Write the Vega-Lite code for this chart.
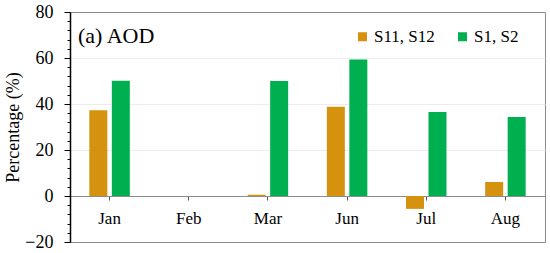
{
  "$schema": "https://vega.github.io/schema/vega-lite/v6.json",
  "width": 475,
  "height": 230,
  "autosize": {"type": "none"},
  "padding": {"left": 70, "top": 12, "right": 5, "bottom": 11},
  "background": "white",
  "config": {
    "font": "Liberation Serif, Times New Roman, serif",
    "view": {"stroke": "#8c8c8c", "strokeWidth": 1}
  },
  "title": {
    "text": "(a) AOD",
    "anchor": "start",
    "frame": "group",
    "orient": "top",
    "offset": -45,
    "dx": 8,
    "font": "Liberation Serif, Times New Roman, serif",
    "fontSize": 22,
    "fontWeight": "normal",
    "color": "black"
  },
  "data": {
    "values": [
      {"month": "Jan", "series": "S11, S12", "value": 37.3},
      {"month": "Jan", "series": "S1, S2", "value": 50.1},
      {"month": "Feb", "series": "S11, S12", "value": 0},
      {"month": "Feb", "series": "S1, S2", "value": 0},
      {"month": "Mar", "series": "S11, S12", "value": 0.5},
      {"month": "Mar", "series": "S1, S2", "value": 50.0},
      {"month": "Jun", "series": "S11, S12", "value": 38.8},
      {"month": "Jun", "series": "S1, S2", "value": 59.4},
      {"month": "Jul", "series": "S11, S12", "value": -5.6},
      {"month": "Jul", "series": "S1, S2", "value": 36.5},
      {"month": "Aug", "series": "S11, S12", "value": 6.1},
      {"month": "Aug", "series": "S1, S2", "value": 34.3}
    ]
  },
  "mark": {"type": "bar"},
  "encoding": {
    "x": {
      "field": "month",
      "type": "nominal",
      "sort": ["Jan", "Feb", "Mar", "Jun", "Jul", "Aug"],
      "scale": {"paddingInner": 0, "paddingOuter": 0},
      "axis": {
        "title": null,
        "orient": "bottom",
        "offset": -46,
        "labelAngle": 0,
        "labelFont": "Liberation Serif, Times New Roman, serif",
        "labelFontSize": 17,
        "labelColor": "black",
        "labelPadding": 10,
        "domainColor": "#8c8c8c",
        "tickColor": "#555555",
        "tickSize": 4,
        "grid": false
      }
    },
    "xOffset": {
      "field": "series",
      "type": "nominal",
      "sort": ["S11, S12", "S1, S2"],
      "scale": {"paddingInner": 0.2, "paddingOuter": 0.86}
    },
    "y": {
      "field": "value",
      "type": "quantitative",
      "scale": {"domain": [-20, 80], "nice": false, "zero": false},
      "axis": {
        "title": "Percentage (%)",
        "titleFont": "Liberation Serif, Times New Roman, serif",
        "titleFontSize": 18,
        "titleFontWeight": "normal",
        "titleColor": "black",
        "titlePadding": 2,
        "values": [-20, -16, -12, -8, -4, 0, 4, 8, 12, 16, 20, 24, 28, 32, 36, 40, 44, 48, 52, 56, 60, 64, 68, 72, 76, 80],
        "labelExpr": "datum.value % 20 === 0 ? datum.label : ''",
        "labelFont": "Liberation Serif, Times New Roman, serif",
        "labelFontSize": 18,
        "labelColor": "black",
        "labelPadding": 11,
        "domainColor": "black",
        "domainWidth": 1.5,
        "tickColor": "black",
        "tickSize": {"condition": {"test": "datum.value % 20 === 0", "value": 6}, "value": 3},
        "grid": true,
        "gridColor": "#ececec",
        "gridOpacity": {"condition": {"test": "datum.value % 20 === 0 && datum.value !== 0 && datum.value !== 80 && datum.value !== -20", "value": 1}, "value": 0}
      }
    },
    "color": {
      "field": "series",
      "type": "nominal",
      "scale": {"domain": ["S11, S12", "S1, S2"], "range": ["#D4920E", "#00B050"]},
      "legend": {
        "title": null,
        "orient": "none",
        "legendX": 284,
        "legendY": 16,
        "direction": "horizontal",
        "symbolType": "square",
        "symbolSize": 81,
        "symbolStrokeWidth": 0,
        "labelFont": "Liberation Serif, Times New Roman, serif",
        "labelFontSize": 17,
        "labelOffset": 3,
        "labelColor": "black",
        "columnPadding": 19
      }
    }
  }
}
